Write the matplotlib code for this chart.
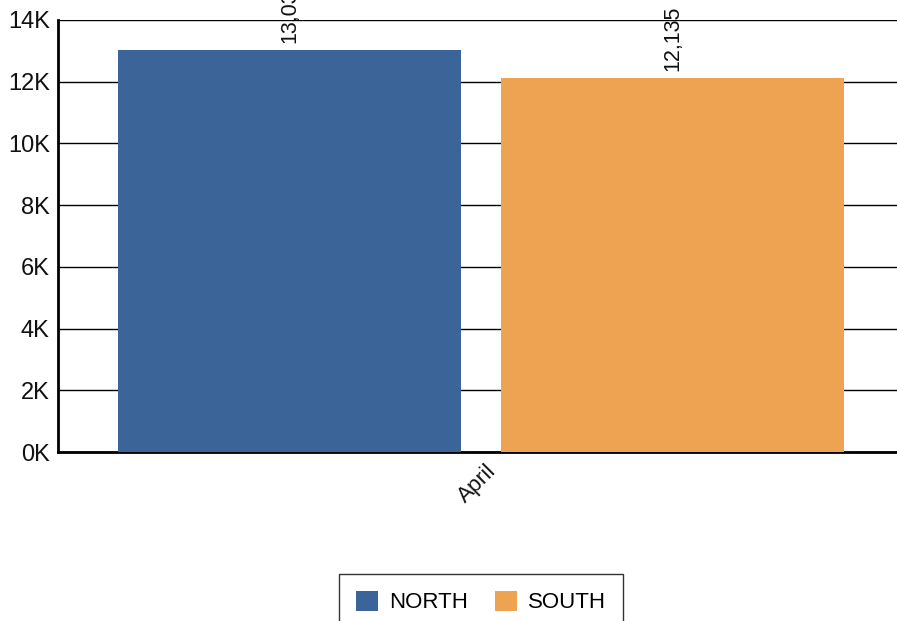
import matplotlib.pyplot as plt
import matplotlib.transforms as mtransforms
import numpy as np
from matplotlib.ticker import FuncFormatter

plt.rcParams["font.family"] = ["Liberation Sans", "DejaVu Sans"]

categories = ["April"]
series = ["NORTH", "SOUTH"]
north = [13030]
south = [12135]
colors = ["#3b6598", "#eea352"]

fig = plt.figure(figsize=(8.97, 6.21), dpi=100)
ax = fig.add_axes([0.0647, 0.2721, 0.9431, 0.6957])

x = np.arange(len(categories))
width = 0.4054
gap = 0.0473
offsets = [-(width + gap) / 2, (width + gap) / 2]

for vals, name, color, off in zip([north, south], series, colors, offsets):
    bars = ax.bar(x + off, vals, width=width, color=color, label=name, zorder=3)
    for b, v in zip(bars, vals):
        ax.annotate(
            f"{v:,}",
            (b.get_x() + b.get_width() / 2, v),
            xytext=(0, 5),
            textcoords="offset points",
            rotation=90,
            ha="center",
            va="bottom",
            fontsize=15.5,
            color="#111111",
            annotation_clip=False,
        )

ax.set_xlim(-0.5, len(categories) - 0.5)
ax.set_ylim(0, 14000)
ax.set_yticks(np.arange(0, 14001, 2000))
ax.yaxis.set_major_formatter(FuncFormatter(lambda v, p: f"{int(v / 1000)}K"))
ax.set_xticks(x)
ax.set_xticklabels(categories, rotation=45, ha="right", va="top", rotation_mode="anchor")
ax.tick_params(axis="both", length=0, labelsize=17, colors="#111111")
ax.tick_params(axis="x", labelsize=16, pad=6)
ax.tick_params(axis="y", pad=6)
shift = mtransforms.ScaledTranslation(5 / 100, 0, fig.dpi_scale_trans)
for lbl in ax.get_xticklabels():
    lbl.set_transform(lbl.get_transform() + shift)

ax.grid(axis="y", color="black", linewidth=1, zorder=0)
ax.set_axisbelow(True)
for s in ["top", "right"]:
    ax.spines[s].set_visible(False)
ax.spines["left"].set_linewidth(2)
ax.spines["bottom"].set_linewidth(2)

fig.legend(
    loc="upper center",
    bbox_to_anchor=(0.536, 1 - 574 / 621),
    borderaxespad=0,
    ncol=2,
    fontsize=16,
    frameon=True,
    fancybox=False,
    edgecolor="black",
    handlelength=1,
    handleheight=1,
    handletextpad=0.5,
    borderpad=0.75,
    columnspacing=1.2,
)

fig.savefig("out.png", dpi=100)
